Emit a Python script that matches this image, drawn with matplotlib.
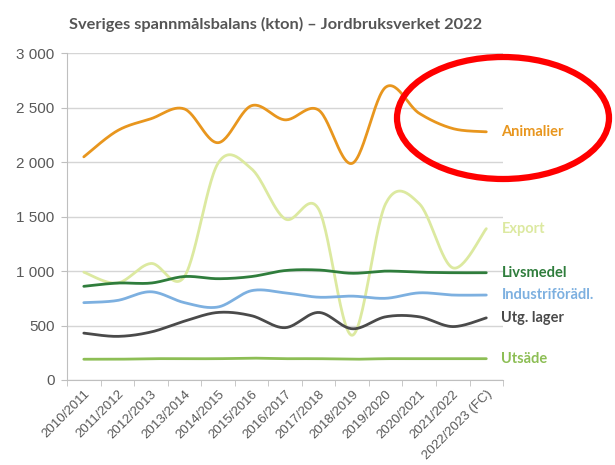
import numpy as np
import matplotlib
matplotlib.use("Agg")
import matplotlib.pyplot as plt
from matplotlib.patches import Ellipse

# Swedish grain balance (kton)
years = ["2010/2011", "2011/2012", "2012/2013", "2013/2014", "2014/2015",
         "2015/2016", "2016/2017", "2017/2018", "2018/2019", "2019/2020",
         "2020/2021", "2021/2022", "2022/2023 (FC)"]
animalier = [2050, 2290, 2400, 2490, 2180, 2520, 2390, 2480, 1990, 2690, 2450, 2310, 2280]
export = [990, 890, 1070, 950, 1990, 1940, 1480, 1570, 410, 1620, 1620, 1030, 1390]
livsmedel = [860, 890, 890, 950, 930, 950, 1005, 1010, 980, 1000, 990, 985, 985]
industri = [710, 730, 810, 710, 670, 820, 800, 760, 770, 750, 800, 780, 780]
utg_lager = [430, 400, 440, 540, 620, 590, 480, 620, 470, 580, 580, 490, 570]
utsade = [190, 190, 195, 195, 195, 200, 195, 195, 190, 195, 195, 195, 195]

series = [
    ("Animalier", animalier, "#E8961E"),
    ("Export", export, "#DCE9A0"),
    ("Livsmedel", livsmedel, "#2F7D3C"),
    ("Industriförädl.", industri, "#7DB0E0"),
    ("Utg. lager", utg_lager, "#4A4A4A"),
    ("Utsäde", utsade, "#8DBE55"),
]


def smooth(x, y, n=30):
    # Catmull-Rom style bezier, similar to Excel "smoothed line"
    x = np.asarray(x, float)
    y = np.asarray(y, float)
    px = np.concatenate([[x[0]], x, [x[-1]]])
    py = np.concatenate([[y[0]], y, [y[-1]]])
    xs, ys = [], []
    t = np.linspace(0, 1, n)
    for i in range(1, len(px) - 2):
        p0 = np.array([px[i], py[i]])
        p3 = np.array([px[i + 1], py[i + 1]])
        c1 = p0 + (np.array([px[i + 1], py[i + 1]]) - np.array([px[i - 1], py[i - 1]])) / 6
        c2 = p3 - (np.array([px[i + 2], py[i + 2]]) - np.array([px[i], py[i]])) / 6
        b = (np.outer((1 - t) ** 3, p0) + np.outer(3 * (1 - t) ** 2 * t, c1)
             + np.outer(3 * (1 - t) * t ** 2, c2) + np.outer(t ** 3, p3))
        xs.extend(b[:, 0])
        ys.extend(b[:, 1])
    return xs, ys


plt.rcParams['font.family'] = ['Lato', 'DejaVu Sans']

fig = plt.figure(figsize=(6.15, 4.65), dpi=100)
ax = fig.add_axes([0.109, 0.183, 0.709, 0.702])

x = np.arange(len(years))
for name, vals, color in series:
    sx, sy = smooth(x, vals)
    ax.plot(sx, sy, color=color, lw=2.0, solid_capstyle="round", zorder=3)
    ax.annotate(name, xy=(12.45, vals[-1]), color=color, fontsize=10.5,
                fontweight="bold", ha="left", va="center", annotation_clip=False)

ax.set_xlim(-0.5, len(years) - 0.5)
ax.set_ylim(0, 3000)
ax.set_yticks(range(0, 3001, 500))
ax.set_yticklabels(["0", "500", "1 000", "1 500", "2 000", "2 500", "3 000"],
                   family="Liberation Sans")
ax.set_xticks(x)
ax.set_xticklabels(years, rotation=45, ha="right", rotation_mode="anchor",
                   family="Liberation Sans")
ax.set_xticks(np.arange(-0.5, len(years), 1), minor=True)
ax.tick_params(axis="x", which="major", length=0, pad=6, labelsize=9.5, labelcolor="#595959")
ax.tick_params(axis="x", which="minor", length=4, color="#BFBFBF")
ax.tick_params(axis="y", length=4, color="#BFBFBF", labelsize=11, labelcolor="#595959", pad=5)

ax.grid(axis="y", color="#D5D5D5", lw=1)
ax.set_axisbelow(True)
for s in ["top", "right"]:
    ax.spines[s].set_visible(False)
for s in ["left", "bottom"]:
    ax.spines[s].set_color("#BFBFBF")

fig.text(0.112, 0.948, "Sveriges spannmålsbalans (kton) – Jordbruksverket 2022",
         fontsize=11.8, fontweight="bold", color="#555555", va="center")

# red marking ellipse around the Animalier forecast
fig.patches.append(Ellipse((503 / 615, 1 - 118 / 465), 212 / 615, 122 / 465,
                           transform=fig.transFigure, fill=False,
                           edgecolor="#FF0000", lw=4.5))

fig.savefig("out.png", dpi=100)
